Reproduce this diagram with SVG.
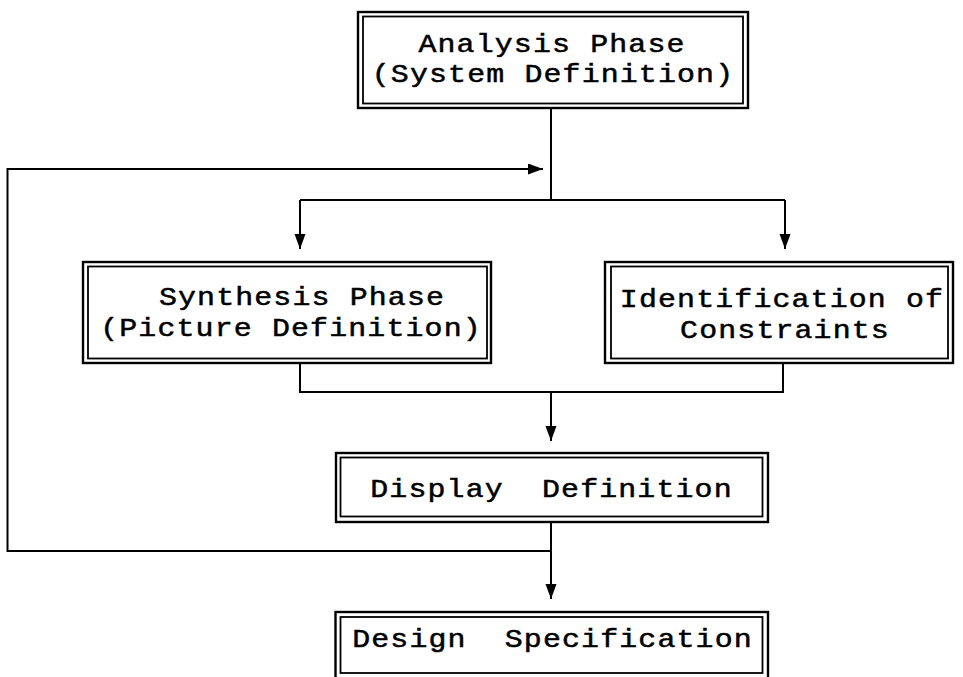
<svg xmlns="http://www.w3.org/2000/svg" width="963" height="677" viewBox="0 0 963 677">
  <style>
    .outer { fill: #fff; stroke: #000; stroke-width: 2.4; }
    .inner { fill: none; stroke: #000; stroke-width: 1.8; }
    .lbl { font-family: "Liberation Mono", "Courier New", monospace; font-size: 26px; letter-spacing: 1px; fill: #000; stroke: #000; stroke-width: 0.5; text-anchor: middle; }
    .wire { fill: none; stroke: #000; stroke-width: 2; }
  </style>
  <defs>
    <marker id="arrow" markerUnits="userSpaceOnUse" markerWidth="16" markerHeight="12" refX="15" refY="5.5" orient="auto">
      <path d="M0,0 L15,5.5 L0,11 Z" fill="#000"/>
    </marker>
  </defs>
  <rect width="963" height="677" fill="#fff"/>

  <!-- flow lines -->
  <g id="connectors">
    <path class="wire" d="M551 108 V200"/>
    <path class="wire" d="M300 200 H785"/>
    <path class="wire" d="M300 200 V249" marker-end="url(#arrow)"/>
    <path class="wire" d="M785 200 V249" marker-end="url(#arrow)"/>
    <path class="wire" d="M300 363 V392 H783 V363"/>
    <path class="wire" d="M551 392 V441" marker-end="url(#arrow)"/>
    <path class="wire" d="M551 522 V599" marker-end="url(#arrow)"/>
    <path class="wire" d="M551 551 H7.5 V169 H543" marker-end="url(#arrow)"/>
  </g>

  <!-- labels are widened a little so the glyphs fill the wide typewriter cells -->
  <g id="analysis">
    <rect class="outer" x="358" y="12" width="390" height="96"/>
    <rect class="inner" x="363" y="16.5" width="380" height="87"/>
    <text class="lbl" transform="translate(552 52) scale(1.15 1)">Analysis Phase</text>
    <text class="lbl" transform="translate(553 82) scale(1.15 1)">(System Definition)</text>
  </g>

  <g id="synthesis">
    <rect class="outer" x="83" y="262" width="408" height="101"/>
    <rect class="inner" x="88" y="266.5" width="399" height="92"/>
    <text class="lbl" transform="translate(302 305) scale(1.15 1)">Synthesis Phase</text>
    <text class="lbl" transform="translate(291 336) scale(1.15 1)">(Picture Definition)</text>
  </g>

  <g id="constraints">
    <rect class="outer" x="605" y="262" width="348" height="101"/>
    <rect class="inner" x="611" y="266.5" width="337" height="92"/>
    <text class="lbl" transform="translate(782 307) scale(1.15 1)">Identification of</text>
    <text class="lbl" transform="translate(785 338) scale(1.15 1)">Constraints</text>
  </g>

  <g id="display">
    <rect class="outer" x="336" y="453" width="432" height="69"/>
    <rect class="inner" x="340.5" y="457.5" width="422" height="59"/>
    <text class="lbl" transform="translate(551.5 497) scale(1.15 1)" xml:space="preserve">Display  Definition</text>
  </g>

  <g id="design">
    <rect class="outer" x="335.5" y="612" width="432.5" height="68"/>
    <rect class="inner" x="340.5" y="617" width="422" height="56"/>
    <text class="lbl" transform="translate(552.5 647) scale(1.15 1)" xml:space="preserve">Design  Specification</text>
  </g>
</svg>
